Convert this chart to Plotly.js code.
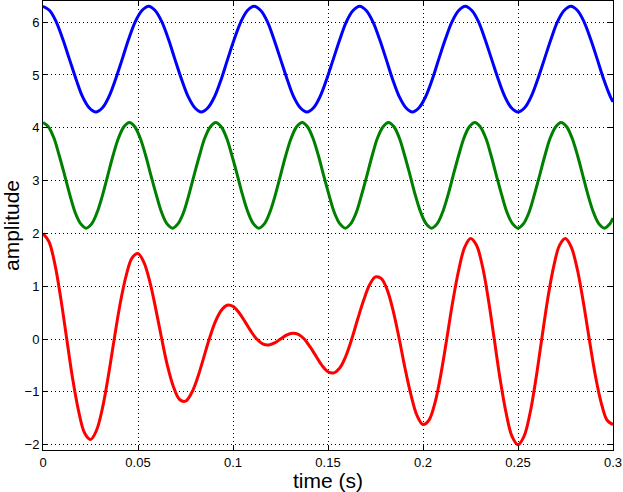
<!DOCTYPE html>
<html>
<head>
<meta charset="utf-8">
<script src="https://cdn.plot.ly/plotly-3.0.1.min.js"></script>
<style>
  body { margin: 0; background: #fff; }
  #plot { width: 623px; height: 492px; }
</style>
</head>
<body>
<div id="plot"></div>
<script>
// blue trace (top) at 1/16-period steps
var tBlue = [0, .0035, .0069, .0104, .0139, .0174, .0208, .0243, .0278, .0313, .0347, .0382, .0417, .0451, .0486, .0521,
  .0556, .059, .0625, .066, .0694, .0729, .0764, .0799, .0833, .0868, .0903, .0938, .0972, .1007, .1042, .1076,
  .1111, .1146, .1181, .1215, .125, .1285, .1319, .1354, .1389, .1424, .1458, .1493, .1528, .1563, .1597, .1632,
  .1667, .1701, .1736, .1771, .1806, .184, .1875, .191, .1944, .1979, .2014, .2049, .2083, .2118, .2153, .2188,
  .2222, .2257, .2292, .2326, .2361, .2396, .2431, .2465, .25, .2535, .2569, .2604, .2639, .2674, .2708, .2743,
  .2778, .2813, .2847, .2882, .2917, .2951, .2986, .3];
var yBlue = [6.3, 6.22, 6.01, 5.68, 5.3, 4.92, 4.59, 4.38, 4.3, 4.38, 4.59, 4.92, 5.3, 5.68, 6.01, 6.22,
  6.3, 6.22, 6.01, 5.68, 5.3, 4.92, 4.59, 4.38, 4.3, 4.38, 4.59, 4.92, 5.3, 5.68, 6.01, 6.22,
  6.3, 6.22, 6.01, 5.68, 5.3, 4.92, 4.59, 4.38, 4.3, 4.38, 4.59, 4.92, 5.3, 5.68, 6.01, 6.22,
  6.3, 6.22, 6.01, 5.68, 5.3, 4.92, 4.59, 4.38, 4.3, 4.38, 4.59, 4.92, 5.3, 5.68, 6.01, 6.22,
  6.3, 6.22, 6.01, 5.68, 5.3, 4.92, 4.59, 4.38, 4.3, 4.38, 4.59, 4.92, 5.3, 5.68, 6.01, 6.22,
  6.3, 6.22, 6.01, 5.68, 5.3, 4.92, 4.59, 4.49];

// green trace (middle)
var tGreen = [0, .0028, .0057, .0085, .0114, .0142, .017, .0199, .0227, .0256, .0284, .0313, .0341, .0369, .0398, .0426,
  .0455, .0483, .0511, .054, .0568, .0597, .0625, .0653, .0682, .071, .0739, .0767, .0795, .0824, .0852, .0881,
  .0909, .0938, .0966, .0994, .1023, .1051, .108, .1108, .1136, .1165, .1193, .1222, .125, .1278, .1307, .1335,
  .1364, .1392, .142, .1449, .1477, .1506, .1534, .1563, .1591, .1619, .1648, .1676, .1705, .1733, .1761, .179,
  .1818, .1847, .1875, .1903, .1932, .196, .1989, .2017, .2045, .2074, .2102, .2131, .2159, .2188, .2216, .2244,
  .2273, .2301, .233, .2358, .2386, .2415, .2443, .2472, .25, .2528, .2557, .2585, .2614, .2642, .267, .2699,
  .2727, .2756, .2784, .2813, .2841, .2869, .2898, .2926, .2955, .2983, .3];
var yGreen = [4.1, 4.02, 3.81, 3.48, 3.1, 2.72, 2.39, 2.18, 2.1, 2.18, 2.39, 2.72, 3.1, 3.48, 3.81, 4.02,
  4.1, 4.02, 3.81, 3.48, 3.1, 2.72, 2.39, 2.18, 2.1, 2.18, 2.39, 2.72, 3.1, 3.48, 3.81, 4.02,
  4.1, 4.02, 3.81, 3.48, 3.1, 2.72, 2.39, 2.18, 2.1, 2.18, 2.39, 2.72, 3.1, 3.48, 3.81, 4.02,
  4.1, 4.02, 3.81, 3.48, 3.1, 2.72, 2.39, 2.18, 2.1, 2.18, 2.39, 2.72, 3.1, 3.48, 3.81, 4.02,
  4.1, 4.02, 3.81, 3.48, 3.1, 2.72, 2.39, 2.18, 2.1, 2.18, 2.39, 2.72, 3.1, 3.48, 3.81, 4.02,
  4.1, 4.02, 3.81, 3.48, 3.1, 2.72, 2.39, 2.18, 2.1, 2.18, 2.39, 2.72, 3.1, 3.48, 3.81, 4.02,
  4.1, 4.02, 3.81, 3.48, 3.1, 2.72, 2.39, 2.18, 2.1, 2.18, 2.29];

// red trace (bottom)
var tRed = [0, .0031, .0063, .0094, .0125, .0156, .0188, .0219, .025, .0281, .0313, .0344, .0375, .0406, .0438, .0469,
  .05, .0531, .0563, .0594, .0625, .0656, .0688, .0719, .075, .0781, .0813, .0844, .0875, .0906, .0938, .0969,
  .1, .1031, .1063, .1094, .1125, .1156, .1188, .1219, .125, .1281, .1313, .1344, .1375, .1406, .1438, .1469,
  .15, .1531, .1563, .1594, .1625, .1656, .1688, .1719, .175, .1781, .1813, .1844, .1875, .1906, .1938, .1969,
  .2, .2031, .2063, .2094, .2125, .2156, .2188, .2219, .225, .2281, .2313, .2344, .2375, .2406, .2438, .2469,
  .25, .2531, .2563, .2594, .2625, .2656, .2688, .2719, .275, .2781, .2813, .2844, .2875, .2906, .2938, .2969, .3];
var yRed = [2, 1.847, 1.41, 0.761, 0, -0.751, -1.375, -1.779, -1.902, -1.734, -1.307, -0.696, 0, 0.668, 1.206, 1.537,
  1.618, 1.451, 1.075, 0.562, 0, -0.52, -0.918, -1.144, -1.176, -1.027, -0.739, -0.374, 0, 0.321, 0.541, 0.64,
  0.618, 0.502, 0.33, 0.149, 0, -0.09, -0.111, -0.073, 0, 0.073, 0.111, 0.09, 0, -0.149, -0.33, -0.502,
  -0.618, -0.64, -0.541, -0.321, 0, 0.374, 0.739, 1.027, 1.176, 1.144, 0.918, 0.52, 0, -0.562, -1.075, -1.451,
  -1.618, -1.537, -1.206, -0.668, 0, 0.696, 1.307, 1.734, 1.902, 1.779, 1.375, 0.751, 0, -0.761, -1.41, -1.847,
  -2, -1.847, -1.41, -0.761, 0, 0.751, 1.375, 1.779, 1.902, 1.734, 1.307, 0.696, 0, -0.668, -1.206, -1.537, -1.618];

var xTicks = [0, 0.05, 0.1, 0.15, 0.2, 0.25, 0.3];
var yTicks = [-2, -1, 0, 1, 2, 3, 4, 5, 6];

function curve(x, y, color) {
  return {x: x, y: y, mode: 'lines', type: 'scatter', hoverinfo: 'skip',
    line: {color: color, width: 3, shape: 'spline', smoothing: 1}};
}

var data = [
  curve(tBlue, yBlue, '#0000ff'),
  curve(tGreen, yGreen, '#008000'),
  curve(tRed, yRed, '#ff0000')
];

var axisStyle = {
  showline: true, linecolor: '#000', linewidth: 1, mirror: 'ticks',
  ticks: 'inside', ticklen: 5, tickcolor: '#000', tickwidth: 1,
  showgrid: true, gridcolor: '#000', gridwidth: 1, griddash: '1px,3px',
  zeroline: false, tickfont: {size: 13, color: '#000'}
};

var layout = {
  width: 623, height: 492,
  margin: {l: 43, r: 10, t: 1, b: 42},
  paper_bgcolor: '#fff', plot_bgcolor: '#fff',
  font: {family: 'Liberation Sans, Arial, sans-serif', color: '#000'},
  showlegend: false,
  xaxis: Object.assign({}, axisStyle, {
    range: [0, 0.3], tickvals: xTicks, ticktext: xTicks.map(String),
    title: {text: 'time (s)', font: {size: 21}, standoff: 2}
  }),
  yaxis: Object.assign({}, axisStyle, {
    range: [-2.1, 6.4], tickvals: yTicks,
    title: {text: 'amplitude', font: {size: 21}, standoff: 6}
  })
};

Plotly.newPlot('plot', data, layout, {displayModeBar: false, staticPlot: true});
</script>
</body>
</html>
